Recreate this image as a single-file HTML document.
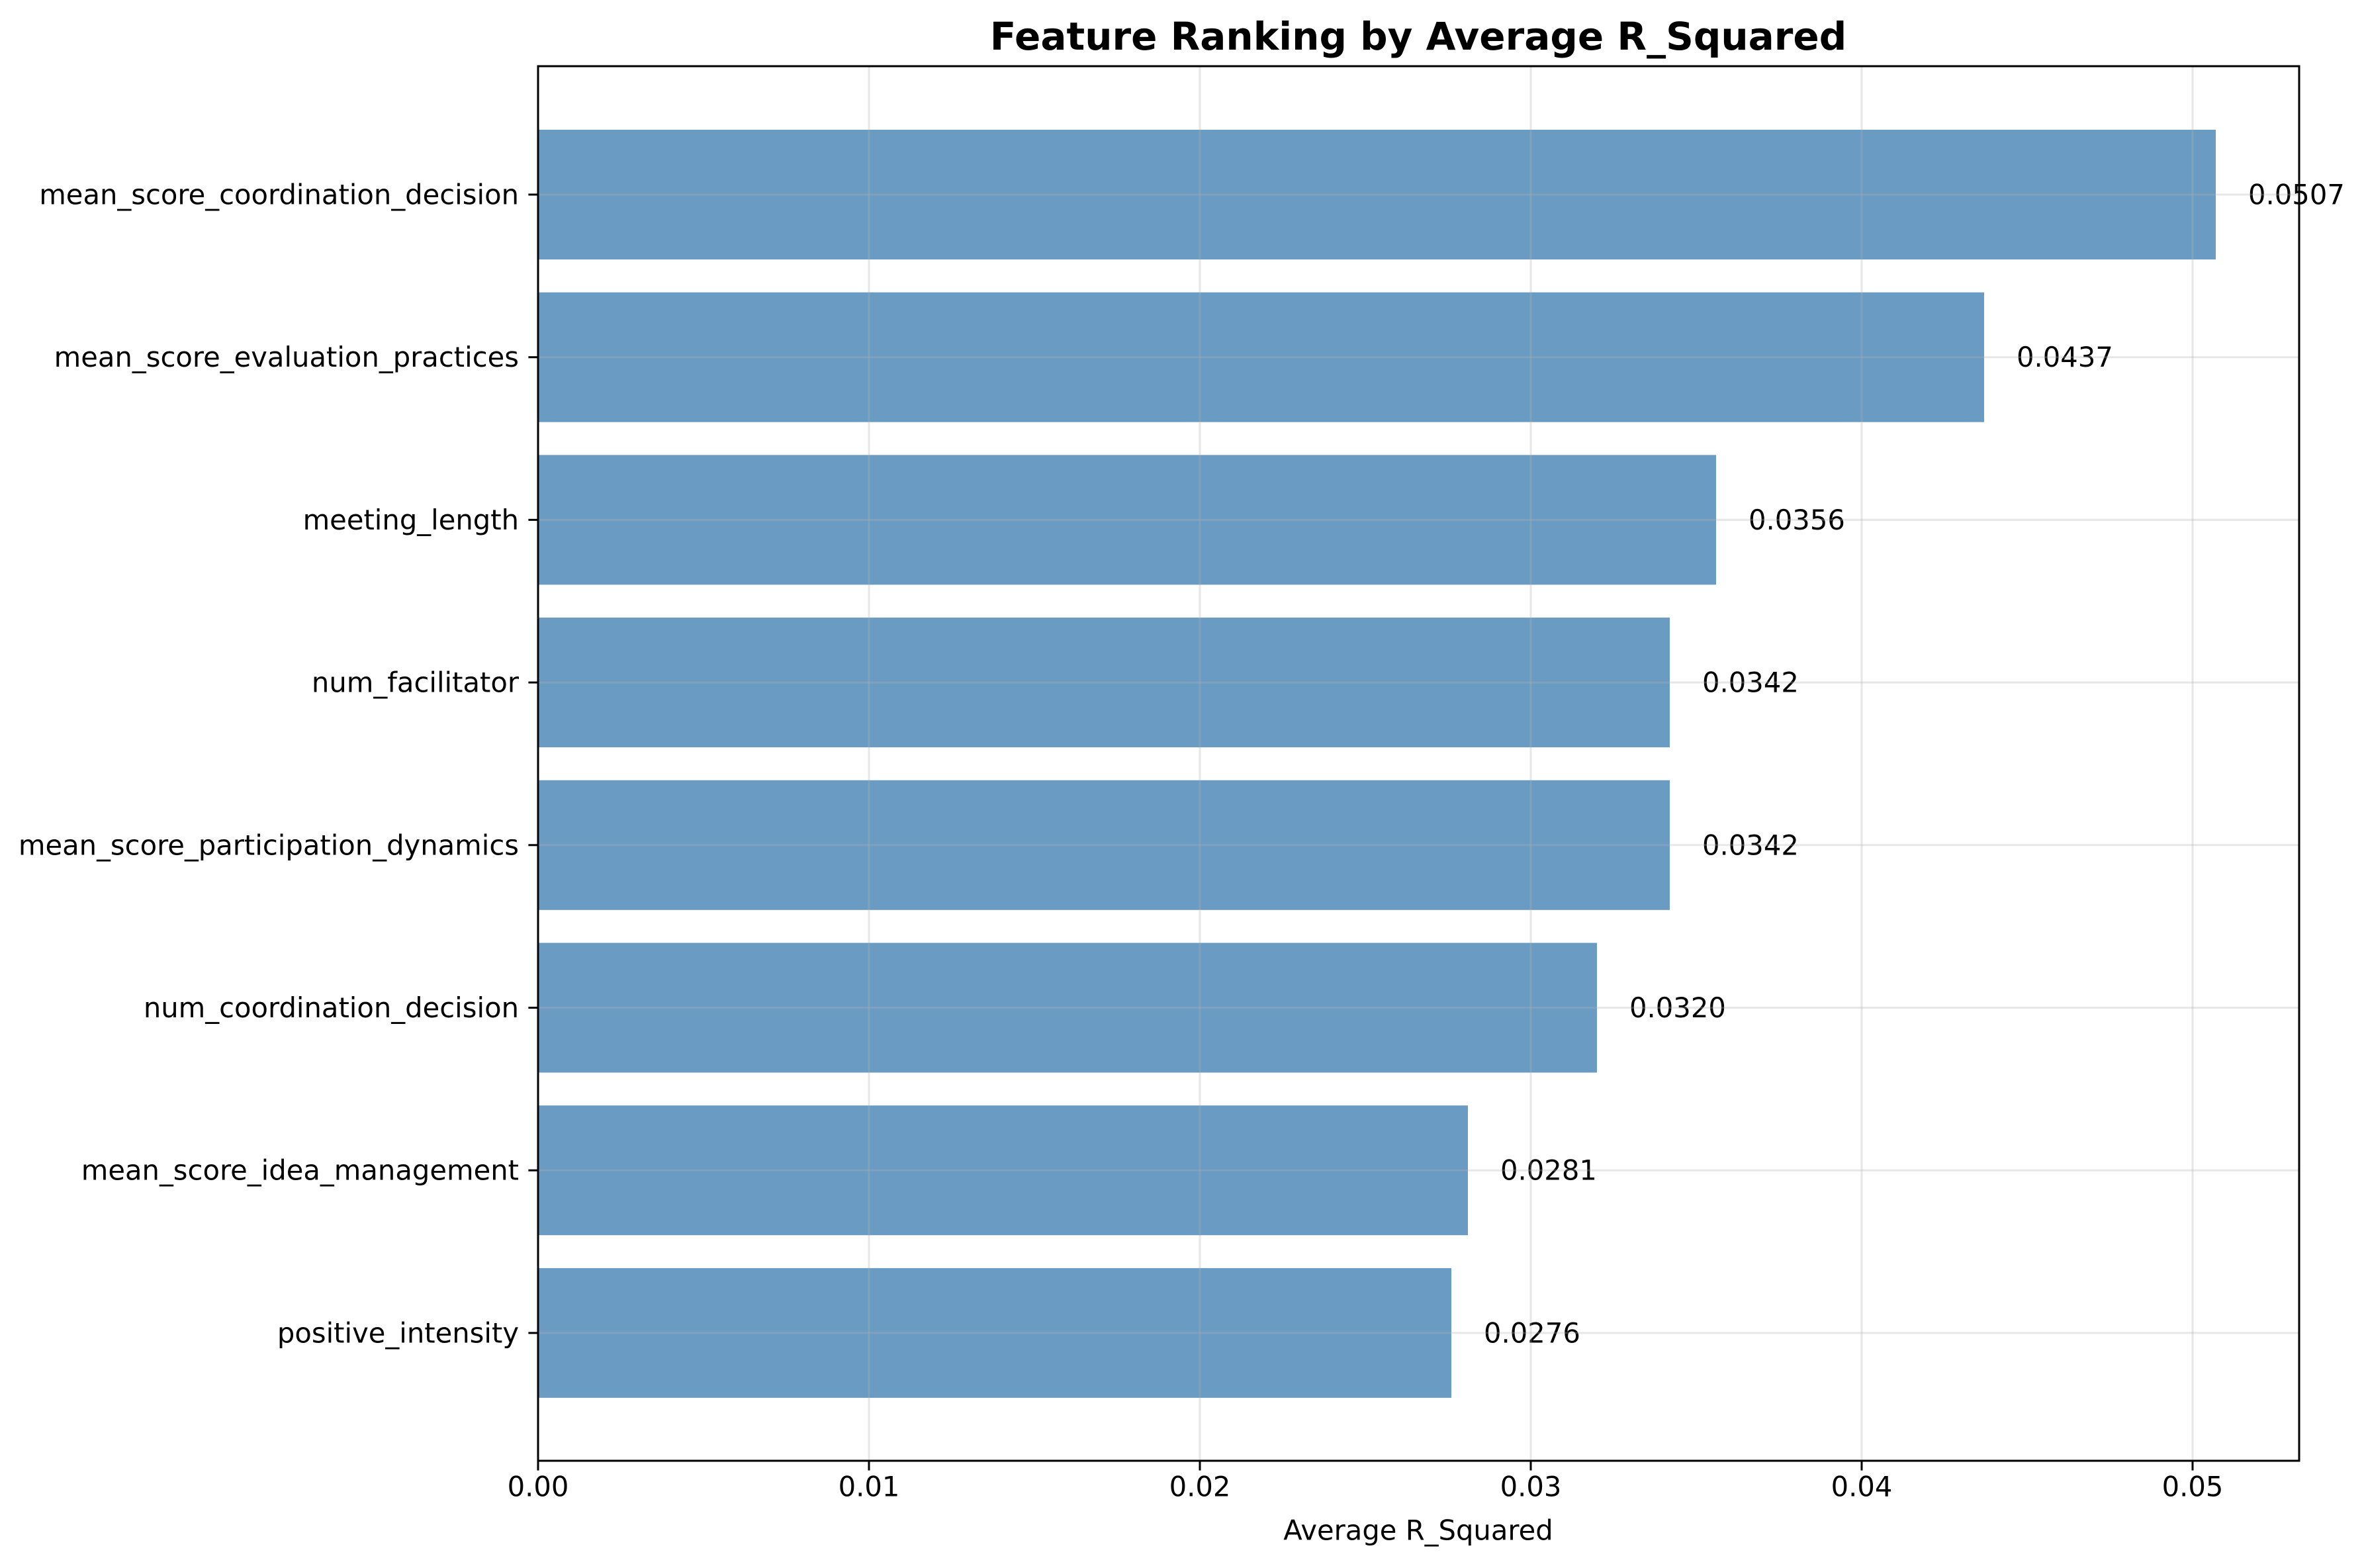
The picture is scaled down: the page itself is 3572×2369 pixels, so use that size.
<!DOCTYPE html>
<html><head><meta charset="utf-8"><style>
html,body{margin:0;padding:0;background:#fff}
svg{display:block;font-family:"DejaVu Sans","Liberation Sans",sans-serif}
</style></head><body>
<svg id="chart" width="3572" height="2369" viewBox="0 0 3572 2369" xmlns="http://www.w3.org/2000/svg">
<rect width="3572" height="2369" fill="#fff"/>
<text x="2143" y="55" font-size="58" font-weight="bold" text-anchor="middle" dominant-baseline="central">Feature Ranking by Average R_Squared</text>
<g id="bars"></g>
<g id="grid"></g>
<g id="ticks"></g>
<rect x="813" y="100" width="2661" height="2107" fill="none" stroke="#000" stroke-width="3"/>
<text x="2143" y="2312" font-size="41.7" text-anchor="middle" dominant-baseline="central">Average R_Squared</text>
</svg>
<script>
const features = ["mean_score_coordination_decision","mean_score_evaluation_practices","meeting_length","num_facilitator","mean_score_participation_dynamics","num_coordination_decision","mean_score_idea_management","positive_intensity"];
const values = [0.0507,0.0437,0.0356,0.0342,0.0342,0.0320,0.0281,0.0276];
const valueLabels = ["0.0507","0.0437","0.0356","0.0342","0.0342","0.0320","0.0281","0.0276"];
const xTicks = [0,0.01,0.02,0.03,0.04,0.05];
const xTickLabels = ["0.00","0.01","0.02","0.03","0.04","0.05"];

const NS="http://www.w3.org/2000/svg";
const L=813,R=3474,T=100,B=2207;
const xMax=(R-L)/50000;
const xs=v=>L+v/xMax*(R-L);
const step=245.7, firstC=294;
const yc=i=>firstC+i*step;
const bh=196;
function mk(t,a,p){const e=document.createElementNS(NS,t);for(const k in a)e.setAttribute(k,a[k]);p.appendChild(e);return e;}
const gb=document.getElementById('bars'),gg=document.getElementById('grid'),gt=document.getElementById('ticks');
features.forEach((f,i)=>{
  const r=mk('rect',{x:xs(0),y:yc(i)-bh/2,width:xs(values[i])-xs(0),height:bh,fill:'#6a9bc3'},gb);
  
  
  const t=mk('text',{x:xs(values[i])+49,y:yc(i),'font-size':41.7,'dominant-baseline':'central'},gb);
  t.textContent=valueLabels[i];
  
  
  const gl=mk('line',{x1:L,x2:R,y1:yc(i),y2:yc(i),stroke:'#b0b0b0','stroke-opacity':0.3,'stroke-width':3},gg);
  
  
  const tk=mk('line',{x1:L-14.6,x2:L,y1:yc(i),y2:yc(i),stroke:'#000','stroke-width':3},gt);
  
  
  const lb=mk('text',{x:L-29,y:yc(i),'font-size':41.7,'text-anchor':'end','dominant-baseline':'central'},gt);
  lb.textContent=f;
  
  
});
xTicks.forEach((v,i)=>{
  const gl=mk('line',{x1:xs(v),x2:xs(v),y1:T,y2:B,stroke:'#b0b0b0','stroke-opacity':0.3,'stroke-width':3},gg);
  
  
  const tk=mk('line',{x1:xs(v),x2:xs(v),y1:B,y2:B+14.6,stroke:'#000','stroke-width':3},gt);
  
  
  const lb=mk('text',{x:xs(v),y:2246,'font-size':41.7,'text-anchor':'middle','dominant-baseline':'central'},gt);
  lb.textContent=xTickLabels[i];
  
  
});
</script>
</body></html>
